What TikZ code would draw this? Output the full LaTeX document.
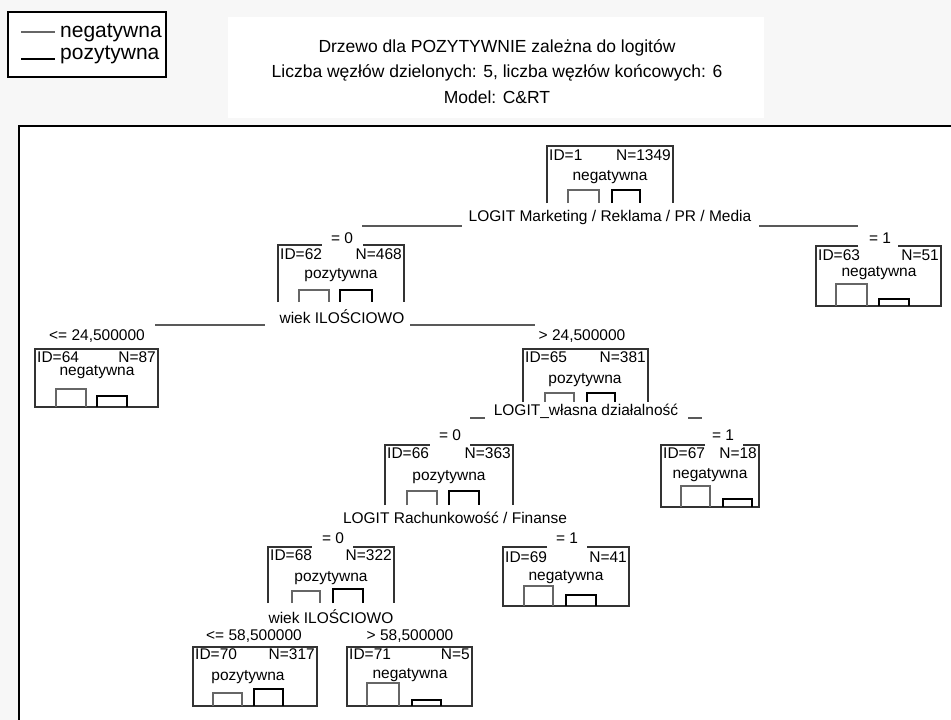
\documentclass[tikz,border=0pt]{standalone}
\usepackage{fontspec}
\setmainfont{Liberation Sans}
\begin{document}
\begin{tikzpicture}[x=1pt,y=-1pt,
  txt/.style={inner sep=0pt, font=\fontsize{15.5}{17}\selectfont},
  idtxt/.style={txt, anchor=west},
  ntxt/.style={txt, anchor=east},
  ttl/.style={inner sep=0pt, font=\fontsize{17.5}{19}\selectfont},
  leg/.style={inner sep=0pt, anchor=west, font=\fontsize{21}{23}\selectfont},
  boxline/.style={draw=black!80, line width=1.3pt},
  negbar/.style={draw=black!60, line width=1.3pt},
  posbar/.style={draw=black, line width=1.7pt},
  splitline/.style={draw=black!65, line width=1.3pt},
  frameline/.style={draw=black, line width=2.2pt}]
\useasboundingbox (0,0) rectangle (951,720);
% backgrounds
\fill[black!3] (0,0) rectangle (951,720);
\fill[white] (19,126) rectangle (951,720);
\fill[white] (228,17) rectangle (764,118);
% legend
\draw[fill=white, line width=1.4pt] (8,12) rectangle (166,77);
\draw[negbar] (21,32) -- (55,32);
\draw[posbar] (21,59) -- (55,59);
\node[leg] (legneg) at (60,33) {negatywna};
\node[leg] (legpos) at (60,55) {pozytywna};
% title
\node[ttl] (title1) at (497,48) {Drzewo dla POZYTYWNIE zależna do logitów};
\node[ttl] (title2) at (497,73) {Liczba węzłów dzielonych: 5, liczba węzłów końcowych: 6};
\node[ttl] (title3) at (497,97) {Model: C\&RT};
% frame
\draw[frameline] (19,722) -- (19,126) -- (953,126);

% ---- node 1 (root)
\draw[boxline] (547,203) -- (547,146) -- (673,146) -- (673,203);
\node[idtxt] (id1) at (549,155) {ID=1};
\node[ntxt] (nn1) at (671,155) {N=1349};
\node[txt] (c1) at (610,177) {negatywna};
\draw[negbar] (568,203) -- (568,190) -- (599,190) -- (599,203);
\draw[posbar] (612,203) -- (612,190) -- (640,190) -- (640,203);
\node[txt] (s1) at (610,217) {LOGIT Marketing / Reklama / PR / Media};
\draw[splitline] (362,226) -- (462,226);
\draw[splitline] (759,226) -- (858,226);
\node[txt] (e62) at (342,238) {=\ 0};
\node[txt] (e63) at (880,238) {=\ 1};

% ---- node 62
\draw[boxline] (278,302) -- (278,245) -- (322,245);
\draw[boxline] (363,245) -- (404,245) -- (404,302);
\node[idtxt] (id62) at (280,254) {ID=62};
\node[ntxt] (nn62) at (402,254) {N=468};
\node[txt] (c62) at (341,275) {pozytywna};
\draw[negbar] (299,302) -- (299,290) -- (329,290) -- (329,302);
\draw[posbar] (340,302) -- (340,290) -- (372,290) -- (372,302);
\node[txt] (s62) at (342,317) {wiek ILOŚCIOWO};
\draw[splitline] (155,325) -- (265,325);
\draw[splitline] (410,325) -- (535,325);
\node[txt] (e64) at (97,336) {<= 24,500000};
\node[txt] (e65) at (582,336) {> 24,500000};

% ---- node 63 (leaf)
\draw[boxline] (858,246) -- (816,246) -- (816,306) -- (941,306) -- (941,246) -- (898,246);
\node[idtxt] (id63) at (818,255) {ID=63};
\node[ntxt] (nn63) at (939,255) {N=51};
\node[txt] (c63) at (879,273) {negatywna};
\draw[negbar] (836,306) -- (836,284) -- (867,284) -- (867,306);
\draw[posbar] (879,306) -- (879,299) -- (909,299) -- (909,306);

% ---- node 64 (leaf)
\draw[boxline] (35,349) rectangle (158,407);
\node[idtxt] (id64) at (37,357) {ID=64};
\node[ntxt] (nn64) at (156,357) {N=87};
\node[txt] (c64) at (97,372) {negatywna};
\draw[negbar] (56,407) -- (56,389) -- (86,389) -- (86,407);
\draw[posbar] (97,407) -- (97,396) -- (127,396) -- (127,407);

% ---- node 65
\draw[boxline] (523,402) -- (523,349) -- (648,349) -- (648,402);
\node[idtxt] (id65) at (525,357) {ID=65};
\node[ntxt] (nn65) at (646,357) {N=381};
\node[txt] (c65) at (585,380) {pozytywna};
\draw[negbar] (545,402) -- (545,393) -- (574,393) -- (574,402);
\draw[posbar] (587,402) -- (587,393) -- (615,393) -- (615,402);
\node[txt] (s65) at (586,411) {LOGIT\_własna działalność};
\draw[splitline] (470,418) -- (485,418);
\draw[splitline] (688,418) -- (702,418);
\node[txt] (e66) at (450,435) {=\ 0};
\node[txt] (e67) at (723,435) {=\ 1};

% ---- node 66
\draw[boxline] (385,505) -- (385,445) -- (430,445);
\draw[boxline] (470,445) -- (513,445) -- (513,505);
\node[idtxt] (id66) at (387,453) {ID=66};
\node[ntxt] (nn66) at (511,453) {N=363};
\node[txt] (c66) at (449,477) {pozytywna};
\draw[negbar] (407,505) -- (407,491) -- (437,491) -- (437,505);
\draw[posbar] (449,505) -- (449,491) -- (479,491) -- (479,505);
\node[txt] (s66) at (455,518) {LOGIT Rachunkowość / Finanse};
\node[txt] (e68) at (333,538) {=\ 0};
\node[txt] (e69) at (567,538) {=\ 1};

% ---- node 67 (leaf)
\draw[boxline] (705,445) -- (661,445) -- (661,507) -- (759,507) -- (759,445) -- (743,445);
\node[idtxt] (id67) at (663,453) {ID=67};
\node[ntxt] (nn67) at (757,453) {N=18};
\node[txt] (c67) at (710,475) {negatywna};
\draw[negbar] (681,507) -- (681,486) -- (710,486) -- (710,507);
\draw[posbar] (723,507) -- (723,499) -- (752,499) -- (752,507);

% ---- node 68
\draw[boxline] (268,603) -- (268,547) -- (312,547);
\draw[boxline] (353,547) -- (394,547) -- (394,603);
\node[idtxt] (id68) at (270,555) {ID=68};
\node[ntxt] (nn68) at (392,555) {N=322};
\node[txt] (c68) at (331,578) {pozytywna};
\draw[negbar] (292,603) -- (292,591) -- (320,591) -- (320,603);
\draw[posbar] (333,603) -- (333,589) -- (363,589) -- (363,603);
\node[txt] (s68) at (331,617) {wiek ILOŚCIOWO};
\node[txt] (e70) at (254,636) {<= 58,500000};
\node[txt] (e71) at (410,636) {> 58,500000};

% ---- node 69 (leaf)
\draw[boxline] (547,547) -- (503,547) -- (503,606) -- (629,606) -- (629,547) -- (587,547);
\node[idtxt] (id69) at (505,557) {ID=69};
\node[ntxt] (nn69) at (627,557) {N=41};
\node[txt] (c69) at (566,577) {negatywna};
\draw[negbar] (524,606) -- (524,586) -- (553,586) -- (553,606);
\draw[posbar] (566,606) -- (566,595) -- (596,595) -- (596,606);

% ---- node 70 (leaf)
\draw[boxline] (193,647) rectangle (317,706);
\node[idtxt] (id70) at (195,654) {ID=70};
\node[ntxt] (nn70) at (315,654) {N=317};
\node[txt] (c70) at (248,677) {pozytywna};
\draw[negbar] (213,706) -- (213,693) -- (242,693) -- (242,706);
\draw[posbar] (254,706) -- (254,689) -- (283,689) -- (283,706);

% ---- node 71 (leaf)
\draw[boxline] (347,647) rectangle (472,706);
\node[idtxt] (id71) at (349,654) {ID=71};
\node[ntxt] (nn71) at (470,654) {N=5};
\node[txt] (c71) at (410,675) {negatywna};
\draw[negbar] (367,706) -- (367,683) -- (399,683) -- (399,706);
\draw[posbar] (412,706) -- (412,700) -- (441,700) -- (441,706);
\end{tikzpicture}
\end{document}
